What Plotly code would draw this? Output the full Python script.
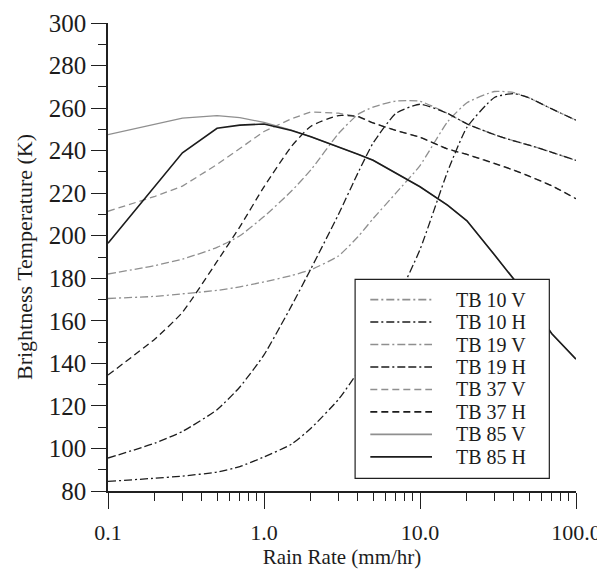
import plotly.graph_objects as go

# ---------------- data ----------------
rain_rate = [0.1, 0.2, 0.3, 0.5, 0.7, 1.0, 1.5, 2, 3, 4, 5, 7, 10, 15, 20, 30, 40, 50, 70, 100]

tb10v = [170.5, 171.5, 172.7, 174.3, 176.0, 178.3, 181.3, 184.0, 190.5, 199.5, 208.0, 220.0, 233.0, 253.5, 262.5, 267.8, 267.3, 264.8, 259.6, 254.3]
tb10h = [84.5, 86.0, 87.0, 88.9, 91.5, 96.0, 102.0, 109.5, 123.0, 136.0, 149.0, 169.0, 193.5, 230.0, 251.0, 265.0, 266.8, 264.8, 259.6, 254.3]
tb19v = [182.0, 186.0, 189.0, 194.5, 200.0, 209.0, 221.0, 231.0, 248.0, 257.0, 260.5, 263.3, 263.2, 257.5, 252.6, 247.5, 244.6, 242.6, 239.2, 235.4]
tb19h = [95.5, 102.5, 108.0, 118.2, 128.9, 144.0, 167.0, 184.5, 210.0, 229.5, 243.5, 257.5, 261.8, 257.5, 252.6, 247.5, 244.6, 242.6, 239.2, 235.4]
tb37v = [211.5, 218.5, 223.3, 233.5, 241.0, 249.0, 255.0, 258.2, 257.6, 256.0, 253.0, 249.5, 246.3, 240.8, 238.2, 234.0, 230.8, 228.0, 223.5, 217.4]
tb37h = [134.5, 151.5, 164.0, 187.9, 204.2, 223.0, 242.0, 251.5, 256.5, 256.0, 253.0, 249.5, 246.3, 240.8, 238.2, 234.0, 230.8, 228.0, 223.5, 217.4]
tb85v = [247.5, 252.5, 255.3, 256.5, 255.5, 253.3, 249.7, 246.5, 241.8, 238.3, 235.5, 229.5, 223.0, 214.4, 207.0, 191.0, 179.5, 169.5, 153.9, 142.0]
tb85h = [196.5, 223.3, 239.0, 250.5, 252.0, 252.5, 249.5, 246.5, 241.8, 238.3, 235.5, 229.5, 223.0, 214.4, 207.0, 191.0, 179.5, 169.5, 153.9, 142.0]

series_names = ["TB 10 V", "TB 10 H", "TB 19 V", "TB 19 H", "TB 37 V", "TB 37 H", "TB 85 V", "TB 85 H"]
series_values = [tb10v, tb10h, tb19v, tb19h, tb37v, tb37h, tb85v, tb85h]

x_tick_vals = [0.1, 1, 10, 100]
x_tick_text = ["0.1", "1.0", "10.0", "100.0"]
x_minor_vals = [m * d for d in (0.1, 1, 10) for m in range(2, 10)]

# ---------------- styles ----------------
GRAY = "#8f8f8f"
BLACK = "#1c1c1c"
AX = "#202020"
DASH_10 = "8px,3px,2px,3px"
DASH_19 = "8px,3px,8px,3px,2px,3px"
DASH_37 = "7px,4px"
styles = [
    dict(color=GRAY, dash=DASH_10, width=1.3, shape="spline", smoothing=0.5),
    dict(color=BLACK, dash=DASH_10, width=1.3, shape="spline", smoothing=0.5),
    dict(color=GRAY, dash=DASH_19, width=1.3, shape="spline", smoothing=0.5),
    dict(color=BLACK, dash=DASH_19, width=1.3, shape="spline", smoothing=0.5),
    dict(color=GRAY, dash=DASH_37, width=1.3),
    dict(color=BLACK, dash=DASH_37, width=1.3, shape="spline", smoothing=0.5),
    dict(color=GRAY, dash="solid", width=1.3),
    dict(color=BLACK, dash="solid", width=1.6),
]
FONT = "Liberation Serif"

fig = go.Figure()
for name, vals, st in zip(series_names, series_values, styles):
    fig.add_trace(go.Scatter(x=rain_rate, y=vals, mode="lines", name=name,
                             line=st, showlegend=False, hoverinfo="x+y+name"))

# ---------------- manual legend (box, samples, labels) ----------------
leg_x0, leg_x1, leg_y0, leg_y1 = 0.528, 0.943, 0.027, 0.452
row_top, row_step = 0.409, 0.048
sample_x0, sample_x1, label_x = 0.5605, 0.6923, 0.742
shapes = [dict(type="rect", xref="paper", yref="paper", x0=leg_x0, x1=leg_x1, y0=leg_y0, y1=leg_y1,
               line=dict(color=AX, width=1.2), fillcolor="white", layer="above")]
annotations = []
for i, (name, st) in enumerate(zip(series_names, styles)):
    yy = row_top - i * row_step
    shapes.append(dict(type="line", xref="paper", yref="paper", x0=sample_x0, x1=sample_x1, y0=yy, y1=yy,
                       line=dict(color=st["color"], dash=st["dash"], width=st["width"] + 0.3), layer="above"))
    annotations.append(dict(xref="paper", yref="paper", x=label_x, y=yy, text=name, showarrow=False,
                            xanchor="left", yanchor="middle", borderpad=0,
                            font=dict(family=FONT, size=20, color=BLACK)))

xtickfont = dict(family=FONT, size=22, color=BLACK)
ytickfont = dict(family=FONT, size=25, color=BLACK)
titlefont = dict(family=FONT, size=21, color=BLACK)
# the page body has an 8px margin, so the figure is 8px smaller than the window
fig.update_layout(
    width=597, height=561,
    margin=dict(l=100, r=29, t=15, b=78, pad=0),
    paper_bgcolor="white", plot_bgcolor="white",
    showlegend=False,
    shapes=shapes, annotations=annotations,
    xaxis=dict(type="log", range=[-1, 2], tickvals=x_tick_vals, ticktext=x_tick_text,
               ticks="outside", ticklen=16, tickwidth=1.2, tickcolor=AX, automargin=False,
               showline=True, linecolor=AX, linewidth=1.5, showgrid=False, zeroline=False,
               minor=dict(ticks="outside", ticklen=8, tickvals=x_minor_vals, tickcolor=AX, tickwidth=1.2, showgrid=False),
               ticklabelstandoff=5, tickfont=xtickfont,
               title=dict(text="Rain Rate (mm/hr)", font=titlefont, standoff=8)),
    yaxis=dict(range=[80, 300], tickmode="linear", tick0=80, dtick=20, automargin=False,
               ticks="outside", ticklen=15, tickwidth=1.2, tickcolor=AX,
               showline=True, linecolor=AX, linewidth=1.5, showgrid=False, zeroline=False,
               minor=dict(ticks="outside", ticklen=8, dtick=10, tickcolor=AX, tickwidth=1.2, showgrid=False),
               ticklabelstandoff=0, tickfont=ytickfont,
               title=dict(text="Brightness Temperature (K)", font=dict(family=FONT, size=22, color=BLACK), standoff=10)),
    xaxis2=dict(type="log", range=[-1, 2], overlaying="x", side="top", anchor="y", automargin=False,
                tickvals=[1, 10], ticks="inside", ticklen=14, tickwidth=1.2, tickcolor=AX,
                showticklabels=False, showline=True, linecolor=AX, linewidth=1.5, showgrid=False, zeroline=False,
                minor=dict(ticks="inside", ticklen=7, tickvals=x_minor_vals, tickcolor=AX, tickwidth=1.2, showgrid=False)),
    yaxis2=dict(range=[0, 8], overlaying="y", side="right", anchor="x", automargin=False,
                tickvals=[2, 4, 6], ticks="inside", ticklen=15, tickwidth=1.2, tickcolor=AX,
                showticklabels=False, showline=True, linecolor="#555555", linewidth=2, showgrid=False, zeroline=False,
                minor=dict(ticks="inside", ticklen=7, tickvals=[1, 3, 5, 7], tickcolor=AX, tickwidth=1.2, showgrid=False)),
)

fig.write_html("out.html")
